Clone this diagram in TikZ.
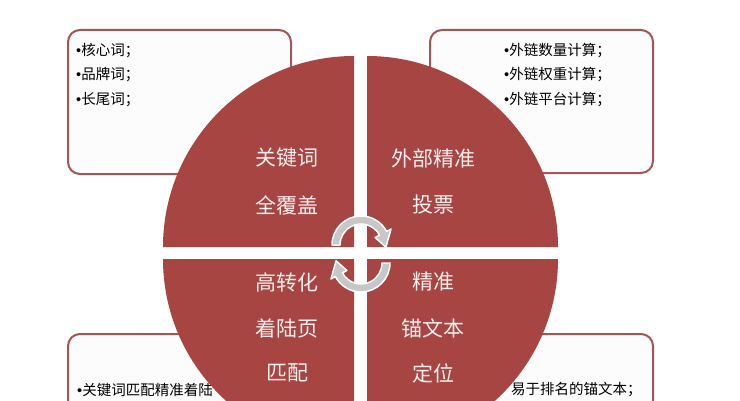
\documentclass[tikz,border=0pt]{standalone}
\usepackage{fontspec}
\newfontfamily\cjk{Noto Sans CJK SC}
\newfontfamily\bulfont{Liberation Sans}
\newcommand{\blt}{{\bulfont •}}
\definecolor{pie}{RGB}{167,69,67}
\definecolor{boxline}{RGB}{165,86,84}
\definecolor{boxfill}{RGB}{252,252,252}
\definecolor{cyccol}{RGB}{200,198,198}
\definecolor{pietext}{RGB}{250,238,238}
\tikzset{
  infobox/.style={draw=boxline, fill=boxfill, line width=2pt, rounded corners=12pt},
  quarter/.style={fill=pie},
  cycarrow/.style={fill=cyccol, draw=white, line width=1.5pt, line join=round},
  lbl/.style={font=\cjk\fontsize{21}{21}\selectfont, text=pietext, inner sep=0pt},
  itm/.style={font=\cjk\fontsize{14.5}{14.5}\selectfont, text=black, inner sep=0pt, anchor=west}
}
\begin{document}
\begin{tikzpicture}[x=1pt,y=1pt]
\clip (0,0) rectangle (740,400);
\fill[white] (0,0) rectangle (740,400);
% boxes
\draw[infobox] (68,226) rectangle (291,370);
\draw[infobox] (430,227) rectangle (653,370);
\draw[infobox] (68,-78) rectangle (291,66);
\draw[infobox] (430,-78) rectangle (653,66);
% box texts
\node[itm] (a1) at (76,349) {\blt 核心词；};
\node[itm] (a2) at (76,325) {\blt 品牌词；};
\node[itm] (a3) at (76,300) {\blt 长尾词；};
\node[itm] (b1) at (504,349) {\blt 外链数量计算；};
\node[itm] (b2) at (504,325) {\blt 外链权重计算；};
\node[itm] (b3) at (504,300) {\blt 外链平台计算；};
\node[itm] (c1) at (77,10) {\blt 关键词匹配精准着陆};
\node[itm] (d1) at (511,10) {易于排名的锚文本；};
% pie quarters
\fill[quarter] (354,153) -- (163,153) arc[start angle=180,end angle=90,radius=191] -- cycle;
\fill[quarter] (367,153) -- (367,344) arc[start angle=90,end angle=0,radius=191] -- cycle;
\fill[quarter] (354,141) -- (354,-50) arc[start angle=270,end angle=180,radius=191] -- cycle;
\fill[quarter] (367,141) -- (558,141) arc[start angle=0,end angle=-90,radius=191] -- cycle;
% cycle arrows
\begin{scope}[shift={(361,155)}]
\filldraw[cycarrow] (180:29) arc[start angle=180,end angle=28,radius=29]
  -- (28:34) -- (-5:25) -- (28:16) -- (28:21)
  arc[start angle=28,end angle=180,radius=21] -- cycle;
\end{scope}
\begin{scope}[shift={(361,137)},rotate=180]
\filldraw[cycarrow] (180:29) arc[start angle=180,end angle=28,radius=29]
  -- (28:34) -- (-5:25) -- (28:16) -- (28:21)
  arc[start angle=28,end angle=180,radius=21] -- cycle;
\end{scope}
% pie labels
\node[lbl] (q1a) at (287,242) {关键词};
\node[lbl] (q1b) at (287,195) {全覆盖};
\node[lbl] (q2a) at (433,242) {外部精准};
\node[lbl] (q2b) at (433,195) {投票};
\node[lbl] (q3a) at (287,118) {高转化};
\node[lbl] (q3b) at (287,72) {着陆页};
\node[lbl] (q3c) at (287,27) {匹配};
\node[lbl] (q4a) at (433,118) {精准};
\node[lbl] (q4b) at (433,72) {锚文本};
\node[lbl] (q4c) at (433,27) {定位};
\end{tikzpicture}
\end{document}
